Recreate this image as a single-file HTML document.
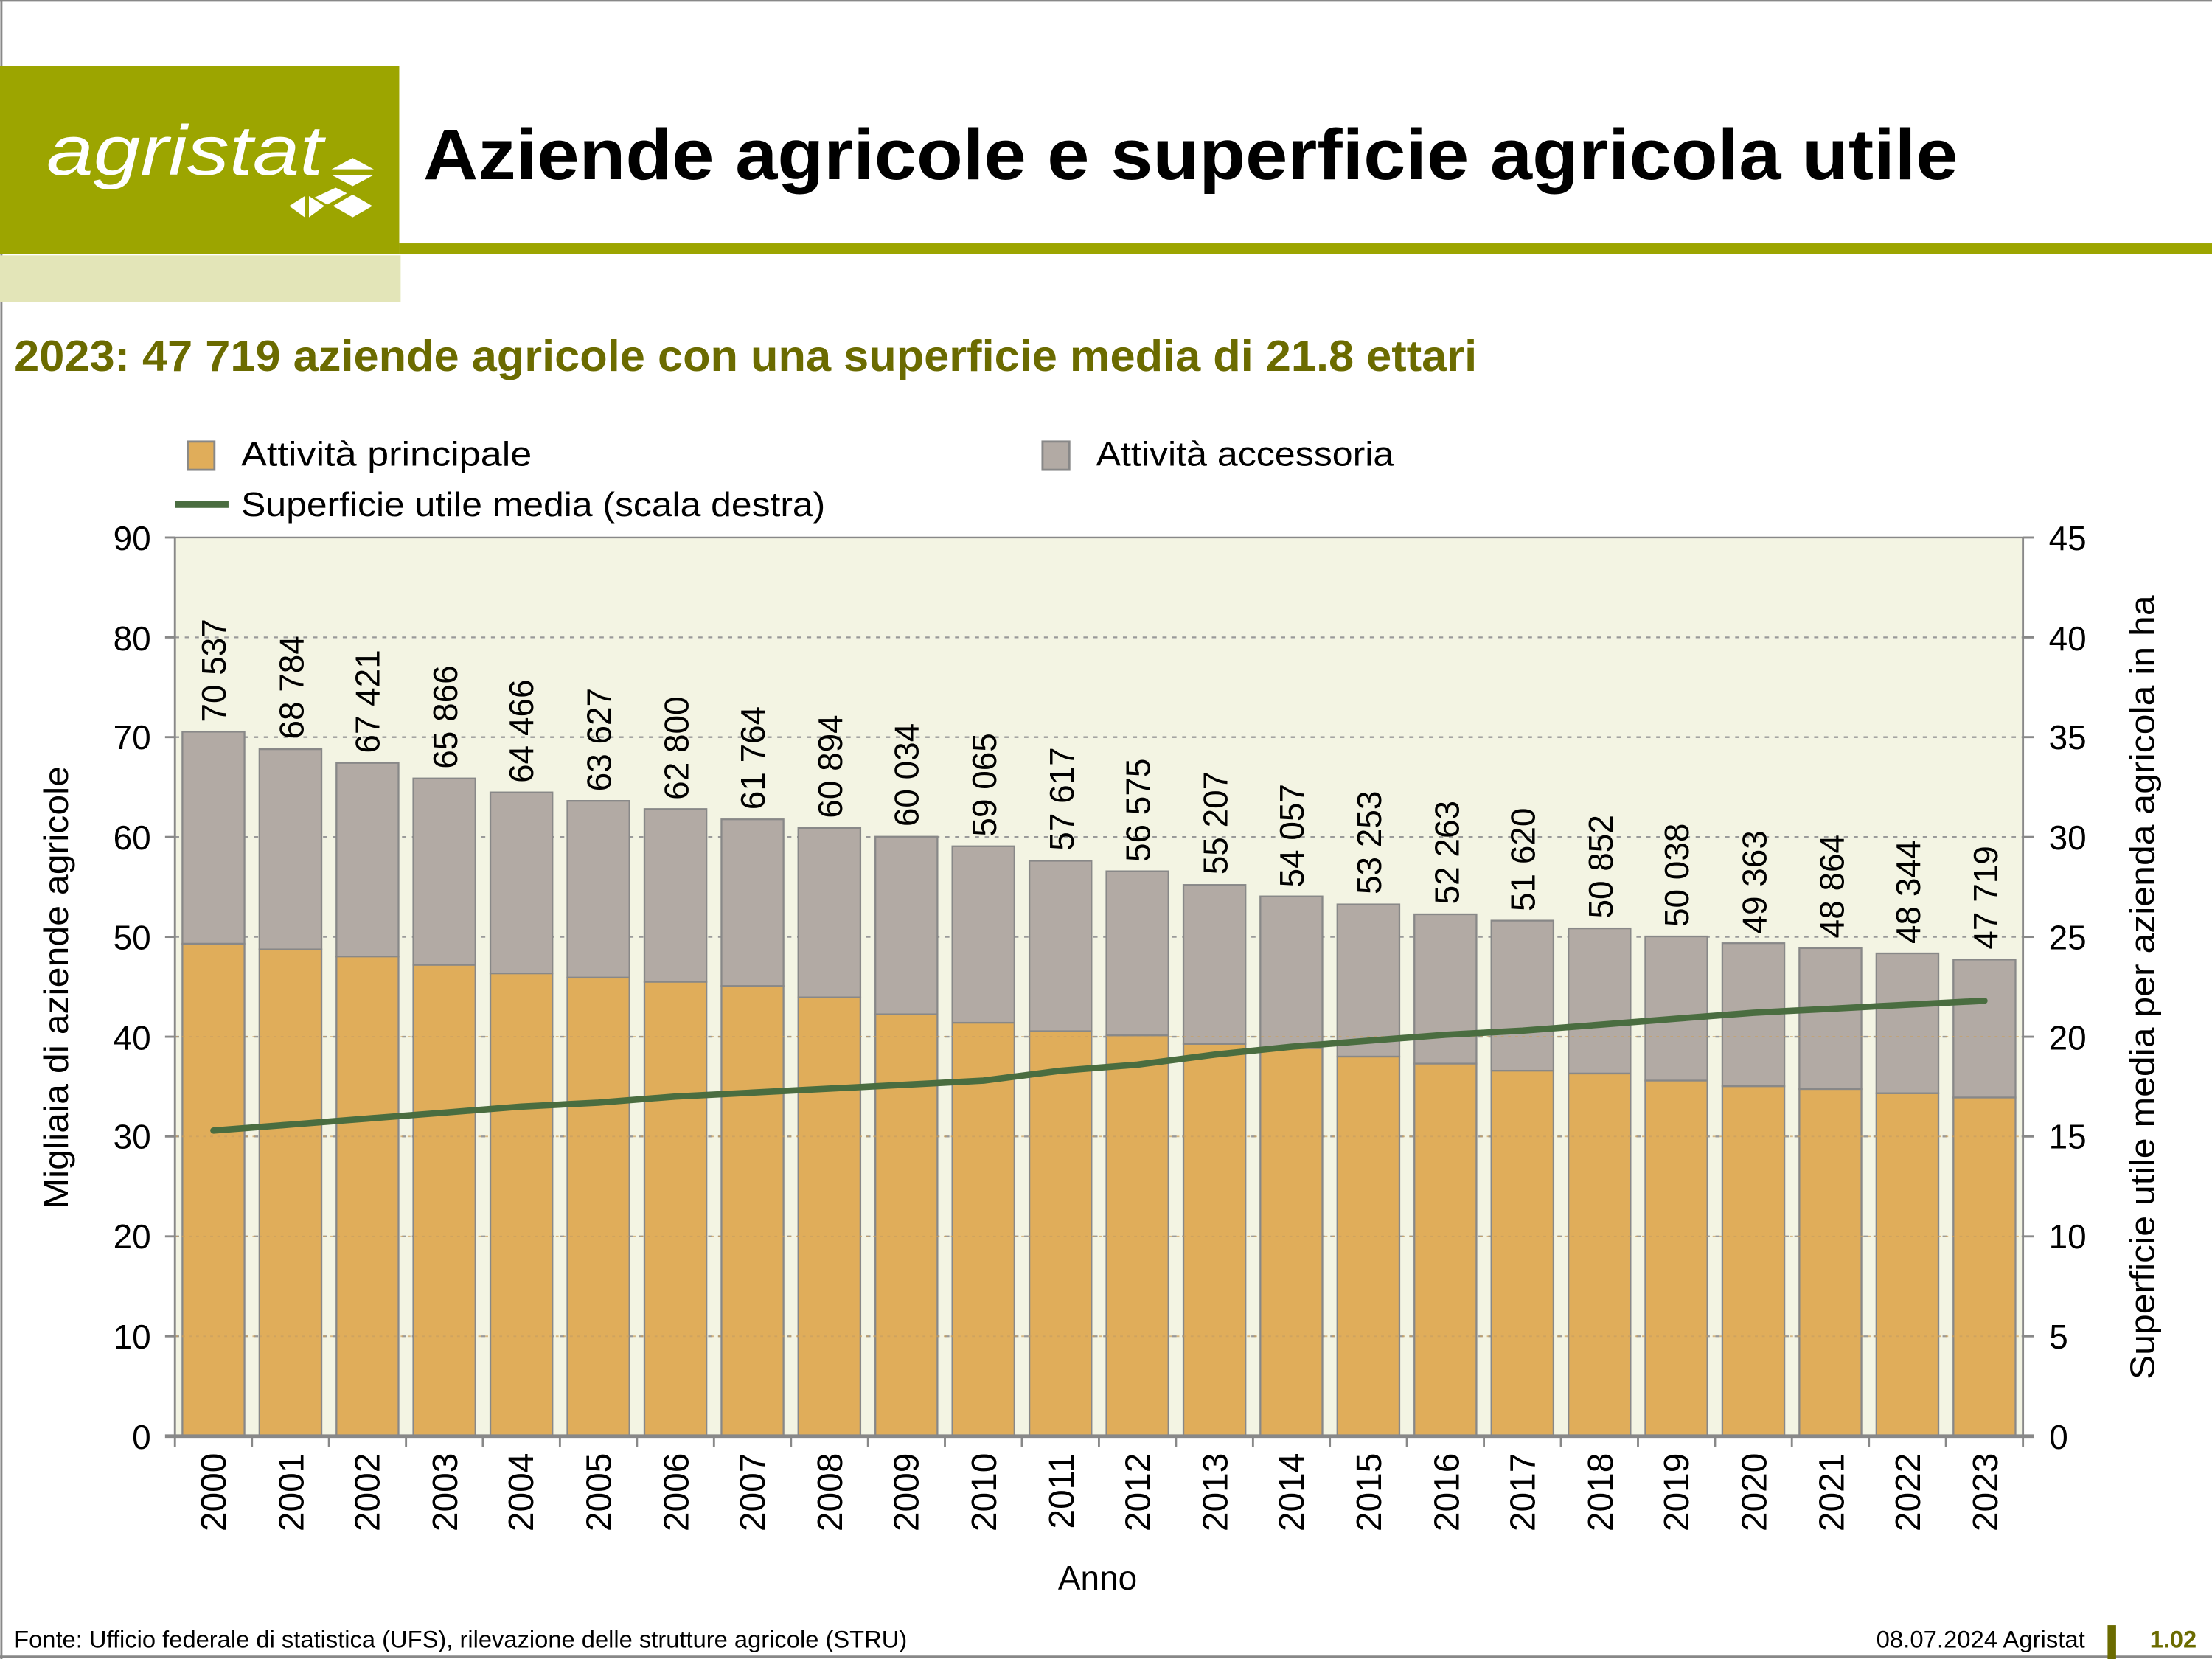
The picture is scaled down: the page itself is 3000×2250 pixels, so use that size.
<!DOCTYPE html>
<html><head><meta charset="utf-8"><style>html,body{margin:0;padding:0;background:#fff}svg{display:block}text{font-family:"Liberation Sans",sans-serif}</style></head><body>
<svg width="3000" height="2250" viewBox="0 0 1568 1176" xmlns="http://www.w3.org/2000/svg">
<rect x="0" y="0" width="1568" height="1176" fill="#fff"/>
<line x1="0" y1="0.5" x2="1568" y2="0.5" stroke="#888" stroke-width="1.5"/>
<line x1="1" y1="0" x2="1" y2="1176" stroke="#888" stroke-width="1.5"/>
<line x1="0" y1="1174.5" x2="1568" y2="1174.5" stroke="#888" stroke-width="2"/>
<rect x="0" y="47" width="283" height="133" fill="#9ca500"/>
<rect x="283" y="172.5" width="1285" height="7.5" fill="#9ca500"/>
<rect x="0" y="181" width="284" height="33" fill="#e3e5b8"/>
<text x="33" y="124" font-size="50" font-style="italic" fill="#fff" textLength="196" lengthAdjust="spacingAndGlyphs">agristat</text>
<g fill="#fff">
<polygon points="235,120 250,112 265,120"/><polygon points="235,124 265,124 250,132"/>
<polygon points="205,146 216,139 216,154"/><polygon points="219,139 219,154 230,146"/>
<polygon points="223,140 238,133 246,137 232,145"/><polygon points="236,146 250,138 264,146 250,154"/>
</g>
<text x="300" y="127" font-size="51" font-weight="bold" fill="#000" textLength="1088" lengthAdjust="spacingAndGlyphs">Aziende agricole e superficie agricola utile</text>
<text x="10" y="263" font-size="31" font-weight="bold" fill="#6b6b00" textLength="1037" lengthAdjust="spacingAndGlyphs">2023: 47 719 aziende agricole con una superficie media di 21.8 ettari</text>
<rect x="133" y="313" width="19" height="20" fill="#e0ad5a" stroke="#888" stroke-width="1.5"/>
<text x="171" y="330" font-size="24" textLength="206" lengthAdjust="spacingAndGlyphs">Attività principale</text>
<rect x="739" y="313" width="19" height="20" fill="#b2aaa4" stroke="#888" stroke-width="1.5"/>
<text x="777" y="330" font-size="24" textLength="211" lengthAdjust="spacingAndGlyphs">Attività accessoria</text>
<rect x="124" y="355" width="38" height="5" fill="#4a6d40"/>
<text x="171" y="366" font-size="24" textLength="414" lengthAdjust="spacingAndGlyphs">Superficie utile media (scala destra)</text>
<rect x="124" y="381" width="1310" height="637" fill="#f3f4e3"/>
<g stroke="#999" stroke-width="1.2" stroke-dasharray="3,4">
<line x1="124" y1="451.8" x2="1434" y2="451.8"/><line x1="124" y1="522.5" x2="1434" y2="522.5"/>
<line x1="124" y1="593.3" x2="1434" y2="593.3"/><line x1="124" y1="664.1" x2="1434" y2="664.1"/>
<line x1="124" y1="734.9" x2="1434" y2="734.9"/><line x1="124" y1="805.6" x2="1434" y2="805.6"/>
<line x1="124" y1="876.4" x2="1434" y2="876.4"/><line x1="124" y1="947.2" x2="1434" y2="947.2"/>
</g>
<line x1="124" y1="381" x2="1434" y2="381" stroke="#888" stroke-width="1.2"/>
<g stroke="#888" stroke-width="1.2">
<rect x="129.3" y="518.7" width="44" height="150.3" fill="#b2aaa4"/><rect x="129.3" y="669" width="44" height="349" fill="#e0ad5a"/>
<rect x="183.9" y="531.1" width="44" height="141.9" fill="#b2aaa4"/><rect x="183.9" y="673" width="44" height="345" fill="#e0ad5a"/>
<rect x="238.5" y="540.8" width="44" height="137.2" fill="#b2aaa4"/><rect x="238.5" y="678" width="44" height="340" fill="#e0ad5a"/>
<rect x="293" y="551.8" width="44" height="132.2" fill="#b2aaa4"/><rect x="293" y="684" width="44" height="334" fill="#e0ad5a"/>
<rect x="347.6" y="561.7" width="44" height="128.3" fill="#b2aaa4"/><rect x="347.6" y="690" width="44" height="328" fill="#e0ad5a"/>
<rect x="402.2" y="567.7" width="44" height="125.3" fill="#b2aaa4"/><rect x="402.2" y="693" width="44" height="325" fill="#e0ad5a"/>
<rect x="456.8" y="573.5" width="44" height="122.5" fill="#b2aaa4"/><rect x="456.8" y="696" width="44" height="322" fill="#e0ad5a"/>
<rect x="511.4" y="580.8" width="44" height="118.2" fill="#b2aaa4"/><rect x="511.4" y="699" width="44" height="319" fill="#e0ad5a"/>
<rect x="565.9" y="587" width="44" height="120" fill="#b2aaa4"/><rect x="565.9" y="707" width="44" height="311" fill="#e0ad5a"/>
<rect x="620.5" y="593.1" width="44" height="125.9" fill="#b2aaa4"/><rect x="620.5" y="719" width="44" height="299" fill="#e0ad5a"/>
<rect x="675.1" y="599.9" width="44" height="125.1" fill="#b2aaa4"/><rect x="675.1" y="725" width="44" height="293" fill="#e0ad5a"/>
<rect x="729.7" y="610.2" width="44" height="120.8" fill="#b2aaa4"/><rect x="729.7" y="731" width="44" height="287" fill="#e0ad5a"/>
<rect x="784.3" y="617.6" width="44" height="116.4" fill="#b2aaa4"/><rect x="784.3" y="734" width="44" height="284" fill="#e0ad5a"/>
<rect x="838.9" y="627.3" width="44" height="112.7" fill="#b2aaa4"/><rect x="838.9" y="740" width="44" height="278" fill="#e0ad5a"/>
<rect x="893.4" y="635.4" width="44" height="107.6" fill="#b2aaa4"/><rect x="893.4" y="743" width="44" height="275" fill="#e0ad5a"/>
<rect x="948" y="641.1" width="44" height="107.9" fill="#b2aaa4"/><rect x="948" y="749" width="44" height="269" fill="#e0ad5a"/>
<rect x="1002.6" y="648.1" width="44" height="105.9" fill="#b2aaa4"/><rect x="1002.6" y="754" width="44" height="264" fill="#e0ad5a"/>
<rect x="1057.2" y="652.6" width="44" height="106.4" fill="#b2aaa4"/><rect x="1057.2" y="759" width="44" height="259" fill="#e0ad5a"/>
<rect x="1111.8" y="658.1" width="44" height="102.9" fill="#b2aaa4"/><rect x="1111.8" y="761" width="44" height="257" fill="#e0ad5a"/>
<rect x="1166.3" y="663.8" width="44" height="102.2" fill="#b2aaa4"/><rect x="1166.3" y="766" width="44" height="252" fill="#e0ad5a"/>
<rect x="1220.9" y="668.6" width="44" height="101.4" fill="#b2aaa4"/><rect x="1220.9" y="770" width="44" height="248" fill="#e0ad5a"/>
<rect x="1275.5" y="672.1" width="44" height="99.9" fill="#b2aaa4"/><rect x="1275.5" y="772" width="44" height="246" fill="#e0ad5a"/>
<rect x="1330.1" y="675.8" width="44" height="99.2" fill="#b2aaa4"/><rect x="1330.1" y="775" width="44" height="243" fill="#e0ad5a"/>
<rect x="1384.7" y="680.2" width="44" height="97.8" fill="#b2aaa4"/><rect x="1384.7" y="778" width="44" height="240" fill="#e0ad5a"/>
</g>
<g stroke="#c9a060" stroke-width="1" stroke-dasharray="2,3" opacity="0.7">
<line x1="124" y1="734.9" x2="1434" y2="734.9"/><line x1="124" y1="805.6" x2="1434" y2="805.6"/>
<line x1="124" y1="876.4" x2="1434" y2="876.4"/><line x1="124" y1="947.2" x2="1434" y2="947.2"/>
</g>
<polyline fill="none" stroke="#4a6d40" stroke-width="4.5" stroke-linejoin="round" stroke-linecap="round" points="151.3,801.4 205.9,797.2 260.5,792.9 315,788.7 369.6,784.4 424.2,781.6 478.8,777.3 533.4,774.5 587.9,771.7 642.5,768.9 697.1,766 751.7,759 806.3,754.7 860.9,747.6 915.4,742 970,737.7 1024.6,733.5 1079.2,730.6 1133.8,726.4 1188.3,722.1 1242.9,717.9 1297.5,715.1 1352.1,712.2 1406.7,709.4"/>
<g stroke="#888" stroke-width="1.5">
<line x1="124" y1="381" x2="124" y2="1026"/><line x1="1434" y1="381" x2="1434" y2="1026"/>
<line x1="117" y1="1018" x2="1442" y2="1018" stroke-width="2.5"/>
<line x1="117" y1="381" x2="124" y2="381"/><line x1="117" y1="451.8" x2="124" y2="451.8"/><line x1="117" y1="522.5" x2="124" y2="522.5"/><line x1="117" y1="593.3" x2="124" y2="593.3"/><line x1="117" y1="664.1" x2="124" y2="664.1"/><line x1="117" y1="734.9" x2="124" y2="734.9"/><line x1="117" y1="805.6" x2="124" y2="805.6"/><line x1="117" y1="876.4" x2="124" y2="876.4"/><line x1="117" y1="947.2" x2="124" y2="947.2"/>
<line x1="1434" y1="381" x2="1442" y2="381"/><line x1="1434" y1="451.8" x2="1442" y2="451.8"/><line x1="1434" y1="522.5" x2="1442" y2="522.5"/><line x1="1434" y1="593.3" x2="1442" y2="593.3"/><line x1="1434" y1="664.1" x2="1442" y2="664.1"/><line x1="1434" y1="734.9" x2="1442" y2="734.9"/><line x1="1434" y1="805.6" x2="1442" y2="805.6"/><line x1="1434" y1="876.4" x2="1442" y2="876.4"/><line x1="1434" y1="947.2" x2="1442" y2="947.2"/>
<line x1="178.6" y1="1018" x2="178.6" y2="1026"/><line x1="233.2" y1="1018" x2="233.2" y2="1026"/><line x1="287.8" y1="1018" x2="287.8" y2="1026"/><line x1="342.3" y1="1018" x2="342.3" y2="1026"/><line x1="396.9" y1="1018" x2="396.9" y2="1026"/><line x1="451.5" y1="1018" x2="451.5" y2="1026"/><line x1="506.1" y1="1018" x2="506.1" y2="1026"/><line x1="560.7" y1="1018" x2="560.7" y2="1026"/><line x1="615.3" y1="1018" x2="615.3" y2="1026"/><line x1="669.8" y1="1018" x2="669.8" y2="1026"/><line x1="724.4" y1="1018" x2="724.4" y2="1026"/><line x1="779" y1="1018" x2="779" y2="1026"/><line x1="833.6" y1="1018" x2="833.6" y2="1026"/><line x1="888.2" y1="1018" x2="888.2" y2="1026"/><line x1="942.7" y1="1018" x2="942.7" y2="1026"/><line x1="997.3" y1="1018" x2="997.3" y2="1026"/><line x1="1051.9" y1="1018" x2="1051.9" y2="1026"/><line x1="1106.5" y1="1018" x2="1106.5" y2="1026"/><line x1="1161.1" y1="1018" x2="1161.1" y2="1026"/><line x1="1215.7" y1="1018" x2="1215.7" y2="1026"/><line x1="1270.2" y1="1018" x2="1270.2" y2="1026"/><line x1="1324.8" y1="1018" x2="1324.8" y2="1026"/><line x1="1379.4" y1="1018" x2="1379.4" y2="1026"/>
</g>
<g font-size="24" text-anchor="end">
<text x="107" y="390">90</text><text x="107" y="461">80</text><text x="107" y="531">70</text><text x="107" y="602">60</text><text x="107" y="673">50</text><text x="107" y="744">40</text><text x="107" y="814">30</text><text x="107" y="885">20</text><text x="107" y="956">10</text><text x="107" y="1027">0</text>
</g>
<g font-size="24" text-anchor="end">
<text x="1479" y="390">45</text><text x="1479" y="461">40</text><text x="1479" y="531">35</text><text x="1479" y="602">30</text><text x="1479" y="673">25</text><text x="1479" y="744">20</text><text x="1479" y="814">15</text><text x="1479" y="885">10</text><text x="1466" y="956">5</text><text x="1466" y="1027">0</text>
</g>
<text transform="translate(48,700) rotate(-90)" font-size="24" text-anchor="middle" textLength="314" lengthAdjust="spacingAndGlyphs">Migliaia di aziende agricole</text>
<text transform="translate(1527,700) rotate(-90)" font-size="24" text-anchor="middle" textLength="556" lengthAdjust="spacingAndGlyphs">Superficie utile media per azienda agricola in ha</text>
<text x="778" y="1127" font-size="24" text-anchor="middle">Anno</text>
<g font-size="25" text-anchor="end">
<text transform="translate(160,1030) rotate(-90)">2000</text><text transform="translate(215,1030) rotate(-90)">2001</text><text transform="translate(269,1030) rotate(-90)">2002</text><text transform="translate(324,1030) rotate(-90)">2003</text><text transform="translate(378,1030) rotate(-90)">2004</text><text transform="translate(433,1030) rotate(-90)">2005</text><text transform="translate(488,1030) rotate(-90)">2006</text><text transform="translate(542,1030) rotate(-90)">2007</text><text transform="translate(597,1030) rotate(-90)">2008</text><text transform="translate(651,1030) rotate(-90)">2009</text><text transform="translate(706,1030) rotate(-90)">2010</text><text transform="translate(761,1030) rotate(-90)">2011</text><text transform="translate(815,1030) rotate(-90)">2012</text><text transform="translate(870,1030) rotate(-90)">2013</text><text transform="translate(924,1030) rotate(-90)">2014</text><text transform="translate(979,1030) rotate(-90)">2015</text><text transform="translate(1034,1030) rotate(-90)">2016</text><text transform="translate(1088,1030) rotate(-90)">2017</text><text transform="translate(1143,1030) rotate(-90)">2018</text><text transform="translate(1197,1030) rotate(-90)">2019</text><text transform="translate(1252,1030) rotate(-90)">2020</text><text transform="translate(1307,1030) rotate(-90)">2021</text><text transform="translate(1361,1030) rotate(-90)">2022</text><text transform="translate(1416,1030) rotate(-90)">2023</text>
</g>
<g font-size="24" text-anchor="start">
<text transform="translate(160,512) rotate(-90)">70 537</text><text transform="translate(215,524) rotate(-90)">68 784</text><text transform="translate(269,534) rotate(-90)">67 421</text><text transform="translate(324,545) rotate(-90)">65 866</text><text transform="translate(378,555) rotate(-90)">64 466</text><text transform="translate(433,561) rotate(-90)">63 627</text><text transform="translate(488,567) rotate(-90)">62 800</text><text transform="translate(542,574) rotate(-90)">61 764</text><text transform="translate(597,580) rotate(-90)">60 894</text><text transform="translate(651,586) rotate(-90)">60 034</text><text transform="translate(706,593) rotate(-90)">59 065</text><text transform="translate(761,603) rotate(-90)">57 617</text><text transform="translate(815,611) rotate(-90)">56 575</text><text transform="translate(870,620) rotate(-90)">55 207</text><text transform="translate(924,629) rotate(-90)">54 057</text><text transform="translate(979,634) rotate(-90)">53 253</text><text transform="translate(1034,641) rotate(-90)">52 263</text><text transform="translate(1088,646) rotate(-90)">51 620</text><text transform="translate(1143,651) rotate(-90)">50 852</text><text transform="translate(1197,657) rotate(-90)">50 038</text><text transform="translate(1252,662) rotate(-90)">49 363</text><text transform="translate(1307,665) rotate(-90)">48 864</text><text transform="translate(1361,669) rotate(-90)">48 344</text><text transform="translate(1416,673) rotate(-90)">47 719</text>
</g>
<text x="10" y="1168" font-size="17" textLength="633" lengthAdjust="spacingAndGlyphs">Fonte: Ufficio federale di statistica (UFS), rilevazione delle strutture agricole (STRU)</text>
<text x="1478" y="1168" font-size="17" text-anchor="end" textLength="148" lengthAdjust="spacingAndGlyphs">08.07.2024 Agristat</text>
<rect x="1494" y="1152" width="6" height="24" fill="#6b6b00"/>
<text x="1524" y="1168" font-size="17" font-weight="bold" fill="#6b6b00">1.02</text>
</svg>
</body></html>
